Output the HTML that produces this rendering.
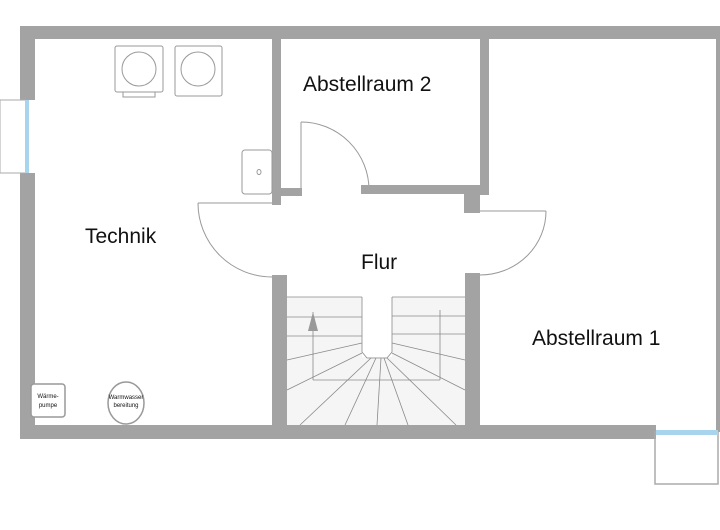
<!DOCTYPE html>
<html><head><meta charset="utf-8"><style>
html,body{margin:0;padding:0;background:#fff;width:720px;height:530px;overflow:hidden}
svg{display:block}
text{font-family:"Liberation Sans","DejaVu Sans",sans-serif;fill:#111}
</style></head><body>
<svg width="720" height="530" viewBox="0 0 720 530" xmlns="http://www.w3.org/2000/svg">
<!-- stairs background -->
<rect x="287" y="297" width="178" height="128" fill="#f6f5f5"/>
<rect x="362" y="290" width="30" height="67" fill="#fff"/>
<g stroke="#8a8a8a" stroke-width="0.8" fill="none">
 <line x1="287" y1="297" x2="362" y2="297"/><line x1="392" y1="297" x2="465" y2="297"/>
 <line x1="287" y1="317" x2="362" y2="317"/><line x1="392" y1="316" x2="465" y2="316"/>
 <line x1="287" y1="336" x2="362" y2="336"/><line x1="392" y1="334" x2="465" y2="334"/>
 <line x1="362" y1="297" x2="362" y2="352"/><line x1="392" y1="297" x2="392" y2="352"/>
 <line x1="362" y1="352" x2="367" y2="358"/><line x1="392" y1="352" x2="387" y2="358"/>
 <line x1="367" y1="358" x2="387" y2="358"/>
 <line x1="287" y1="360" x2="362" y2="343"/><line x1="392" y1="343" x2="465" y2="360"/>
 <line x1="287" y1="390" x2="362" y2="353"/><line x1="392" y1="353" x2="465" y2="390"/>
 <line x1="313" y1="380" x2="440" y2="380"/>
 <line x1="313" y1="312" x2="313" y2="380"/><line x1="440" y1="310" x2="440" y2="380"/>
 <line x1="300" y1="425" x2="371" y2="358"/><line x1="345" y1="425" x2="376" y2="358"/>
 <line x1="377" y1="425" x2="381" y2="358"/><line x1="408" y1="425" x2="384" y2="358"/>
 <line x1="456" y1="425" x2="387" y2="358"/>
</g>
<polygon points="313,312 308,331 318,331" fill="#999"/>
<!-- door arcs -->
<g stroke="#999" stroke-width="1" fill="none">
 <line x1="198" y1="203" x2="272" y2="203"/>
 <path d="M198,203 A74,74 0 0 0 272,277"/>
 <line x1="301" y1="122" x2="301" y2="190"/>
 <path d="M301,122 A68,68 0 0 1 369,190"/>
 <line x1="480" y1="211" x2="546" y2="211"/>
 <path d="M546,211 A66,64 0 0 1 480,275"/>
</g>
<!-- walls -->
<g fill="#a3a3a3">
 <rect x="20" y="26" width="700" height="13"/>
 <rect x="20" y="26" width="15" height="74"/>
 <rect x="20" y="173" width="15" height="266"/>
 <rect x="20" y="425" width="636" height="14"/>
 <rect x="716" y="26" width="4" height="406"/>
 <rect x="272" y="38" width="9" height="167"/>
 <rect x="272" y="188" width="30" height="8"/>
 <rect x="361" y="185" width="128" height="9"/>
 <rect x="480" y="38" width="9" height="157"/>
 <rect x="464" y="193" width="16" height="20"/>
 <rect x="272" y="275" width="15" height="150"/>
 <rect x="465" y="273" width="15" height="152"/>
</g>
<!-- windows -->
<rect x="0" y="100" width="26" height="73" fill="none" stroke="#aaa" stroke-width="1"/>
<rect x="25" y="100" width="4" height="73" fill="#a9d4ee"/>
<rect x="655" y="432" width="63" height="52" fill="none" stroke="#aaa" stroke-width="1.5"/>
<rect x="656" y="430" width="62" height="5" fill="#a9d4ee"/>
<!-- appliances -->
<g stroke="#999" stroke-width="1" fill="#fff">
 <rect x="123" y="90" width="32" height="7"/>
 <rect x="115" y="46" width="48" height="46" rx="2"/>
 <circle cx="139" cy="69" r="17"/>
 <rect x="175" y="46" width="47" height="50" rx="2"/>
 <circle cx="198" cy="69" r="17"/>
 <rect x="242" y="150" width="30" height="44" rx="3"/>
 <ellipse cx="259" cy="172" rx="2" ry="2.5"/>
 <rect x="31" y="384" width="34" height="33" rx="3" stroke-width="1.5"/>
 <ellipse cx="126" cy="403" rx="18" ry="21" stroke-width="1.5"/>
</g>
<text x="48" y="398" font-size="6" text-anchor="middle">Wärme-</text>
<text x="48" y="407" font-size="6" text-anchor="middle">pumpe</text>
<text x="126" y="399" font-size="6" text-anchor="middle">Warmwasser</text>
<text x="126" y="407" font-size="6" text-anchor="middle">bereitung</text>
<!-- labels -->
<text x="85" y="243" font-size="21">Technik</text>
<text x="303" y="91" font-size="21">Abstellraum 2</text>
<text x="361" y="269" font-size="21">Flur</text>
<text x="532" y="345" font-size="21">Abstellraum 1</text>
</svg>
</body></html>
